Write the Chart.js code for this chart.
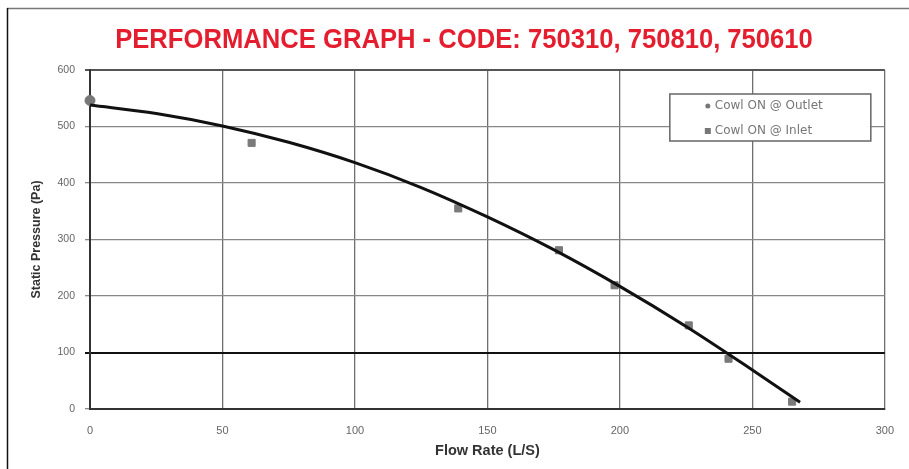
<!DOCTYPE html>
<html>
<head>
<meta charset="utf-8">
<script src="https://cdn.jsdelivr.net/npm/chart.js@4/dist/chart.umd.min.js"></script>
<style>
html,body{margin:0;padding:0;background:#fff;}
#wrap{width:909px;height:469px;position:relative;}
</style>
</head>
<body>
<div id="wrap"><canvas id="c" width="909" height="469"></canvas></div>
<script>
// ---- data ----
const titleText = 'PERFORMANCE GRAPH - CODE: 750310, 750810, 750610';
const xTitle = 'Flow Rate (L/S)';
const yTitle = 'Static Pressure (Pa)';
const outletLabel = 'Cowl ON @ Outlet';
const inletLabel = 'Cowl ON @ Inlet';
const outletFlow = [0];
const outletPressure = [546];
const inletFlow = [61, 139, 177, 198, 226, 241, 265];
const inletPressure = [471, 355, 281, 219, 148, 89, 13];
const trendFlow = [0, 25, 50, 75, 100, 125, 150, 175, 200, 225, 250, 268];
const trendPressure = [538, 523, 501, 472, 436, 392, 340, 282, 217, 146, 69, 12];
const xTicks = [0, 50, 100, 150, 200, 250, 300];
const yTicks = [0, 100, 200, 300, 400, 500, 600];

const toPts = (xs, ys) => xs.map((x, i) => ({x: x, y: ys[i]}));

const framePlugin = {
  id: 'frame',
  beforeDraw(chart) {
    const ctx = chart.ctx;
    ctx.save();
    ctx.fillStyle = '#fff';
    ctx.fillRect(0, 0, chart.width, chart.height);
    ctx.strokeStyle = '#777';
    ctx.lineWidth = 1.5;
    ctx.beginPath(); ctx.moveTo(7, 8.5); ctx.lineTo(chart.width, 8.5); ctx.stroke();
    ctx.strokeStyle = '#111';
    ctx.lineWidth = 1.5;
    ctx.beginPath(); ctx.moveTo(7.5, 8); ctx.lineTo(7.5, chart.height); ctx.stroke();
    // condensed red title
    ctx.fillStyle = '#e41e2f';
    ctx.font = 'bold 28px "Liberation Sans", Arial, sans-serif';
    ctx.textBaseline = 'alphabetic';
    ctx.textAlign = 'center';
    ctx.translate(464, 48);
    ctx.scale(0.915, 1);
    ctx.fillText(titleText, 0, 0);
    ctx.restore();
  }
};

const legendBoxPlugin = {
  id: 'legendBox',
  afterDatasetsDraw(chart) {
    const ctx = chart.ctx;
    const a = chart.chartArea;
    const x0 = a.right - 215, y0 = a.top + 24, w = 201, h = 47;
    ctx.save();
    ctx.fillStyle = '#fff';
    ctx.fillRect(x0, y0, w, h);
    ctx.strokeStyle = '#666';
    ctx.lineWidth = 1.5;
    ctx.strokeRect(x0, y0, w, h);
    ctx.font = '12px "DejaVu Sans", sans-serif';
    ctx.textBaseline = 'middle';
    ctx.textAlign = 'left';
    const items = [chart.data.datasets[1], chart.data.datasets[2]];
    items.forEach((ds, i) => {
      const cy = y0 + 12 + i * 25;
      ctx.fillStyle = '#777';
      if (i === 0) {
        ctx.beginPath(); ctx.arc(x0 + 38, cy, 2.5, 0, Math.PI * 2); ctx.fill();
      } else {
        ctx.fillRect(x0 + 35, cy - 3, 6, 6);
      }
      ctx.fillStyle = '#777';
      ctx.fillText(ds.label, x0 + 45, cy);
    });
    ctx.restore();
  }
};

new Chart(document.getElementById('c'), {
  type: 'scatter',
  data: {
    datasets: [
      {
        label: 'Trend',
        data: toPts(trendFlow, trendPressure),
        showLine: true,
        borderColor: '#111',
        borderWidth: 3,
        pointRadius: 0,
        cubicInterpolationMode: 'monotone',
        order: 0
      },
      {
        label: outletLabel,
        data: toPts(outletFlow, outletPressure),
        pointStyle: 'circle',
        pointRadius: 5,
        backgroundColor: '#777',
        borderColor: '#777',
        clip: false,
        order: 1
      },
      {
        label: inletLabel,
        data: toPts(inletFlow, inletPressure),
        pointStyle: 'rect',
        pointRadius: 5,
        backgroundColor: '#7a7a7a',
        borderColor: '#7a7a7a',
        clip: false,
        order: 1
      }
    ]
  },
  options: {
    responsive: false,
    animation: false,
    layout: {padding: {left: 8, right: 21, top: 70, bottom: 0}},
    plugins: {
      legend: {display: false},
      tooltip: {enabled: false},
      title: {display: false}
    },
    scales: {
      x: {
        type: 'linear',
        min: 0, max: 300,
        afterBuildTicks: s => { s.ticks = xTicks.map(v => ({value: v})); },
        afterFit: s => { s.height = 60; },
        grid: {color: '#6f6f6f', lineWidth: 1.3, tickLength: 0, drawTicks: false},
        border: {color: '#333', width: 2},
        ticks: {color: '#666', font: {family: '"Liberation Sans Narrow", "Liberation Sans", sans-serif', size: 11}, padding: 15, maxRotation: 0},
        title: {display: true, text: xTitle, color: '#333', font: {family: '"Liberation Sans", Arial, sans-serif', size: 14.5, weight: 'bold'}, padding: {top: 0, bottom: 9}}
      },
      y: {
        type: 'linear',
        min: 0, max: 600,
        afterBuildTicks: s => { s.ticks = yTicks.map(v => ({value: v})); },
        afterFit: s => { s.width = 82; },
        grid: {
          color: c => c.tick && c.tick.value === 100 ? '#111' : (c.tick && c.tick.value === 600 ? '#555' : '#888'),
          lineWidth: c => c.tick && (c.tick.value === 100 || c.tick.value === 600) ? 2 : 1.3,
          tickLength: 5
        },
        border: {color: '#333', width: 2},
        ticks: {color: '#666', font: {family: '"Liberation Sans Narrow", "Liberation Sans", sans-serif', size: 10.5}, padding: 10},
        title: {display: true, text: yTitle, color: '#333', font: {family: '"Liberation Sans", Arial, sans-serif', size: 12.5, weight: 'bold'}, padding: {top: 21, bottom: 0}}
      }
    }
  },
  plugins: [framePlugin, legendBoxPlugin]
});
</script>
</body>
</html>
